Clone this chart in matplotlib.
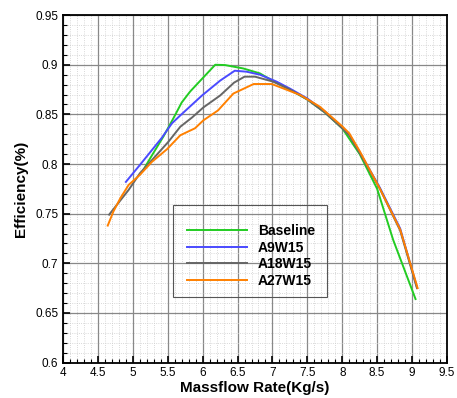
import matplotlib.pyplot as plt
from matplotlib.patches import Rectangle
from matplotlib.ticker import MultipleLocator

plt.rcParams['font.family'] = ['Liberation Sans', 'DejaVu Sans']

# Massflow rate (kg/s) vs efficiency
base_x = [5.15, 5.25, 5.44, 5.58, 5.70, 5.82, 6.18, 6.32, 6.58, 6.82, 7.00, 7.25, 7.50, 7.75,
          8.00, 8.25, 8.50, 8.73, 9.05]
base_y = [0.794, 0.806, 0.828, 0.846, 0.862, 0.873, 0.900, 0.8997, 0.8963, 0.8913, 0.884,
          0.875, 0.865, 0.852, 0.836, 0.810, 0.775, 0.7235, 0.664]

a9_x = [4.90, 5.10, 5.41, 5.56, 5.68, 5.99, 6.25, 6.46, 6.63, 6.82, 7.06, 7.25, 7.50, 7.75,
        8.00, 8.10, 8.25, 8.54, 8.83, 9.07]
a9_y = [0.782, 0.799, 0.826, 0.841, 0.849, 0.869, 0.884, 0.894, 0.893, 0.890, 0.883, 0.876,
        0.866, 0.853, 0.837, 0.830, 0.812, 0.776, 0.735, 0.676]

a18_x = [4.66, 4.94, 5.10, 5.30, 5.51, 5.68, 5.85, 6.01, 6.25, 6.45, 6.60, 6.75, 7.01, 7.25,
         7.50, 7.75, 8.00, 8.10, 8.25, 8.54, 8.83, 9.07]
a18_y = [0.749, 0.774, 0.7906, 0.806, 0.8225, 0.8376, 0.847, 0.857, 0.869, 0.882, 0.888,
         0.888, 0.883, 0.875, 0.865, 0.852, 0.836, 0.829, 0.811, 0.775, 0.733, 0.675]

a27_x = [4.64, 4.72, 4.82, 4.94, 5.10, 5.27, 5.49, 5.68, 5.89, 6.01, 6.22, 6.44, 6.73, 6.99,
         7.40, 7.68, 8.00, 8.10, 8.25, 8.54, 8.83, 9.08]
a27_y = [0.738, 0.752, 0.7655, 0.779, 0.789, 0.802, 0.815, 0.829, 0.836, 0.844, 0.854,
         0.871, 0.8806, 0.8806, 0.8695, 0.8577, 0.838, 0.831, 0.813, 0.775, 0.734, 0.675]

fig = plt.figure(figsize=(4.57, 3.98), dpi=100)
ax = fig.add_axes([0.138, 0.089, 0.840, 0.873])

ax.plot(base_x, base_y, color='#22cc22', lw=1.4, label='Baseline')
ax.plot(a9_x, a9_y, color='#4a4aff', lw=1.4, label='A9W15')
ax.plot(a18_x, a18_y, color='#666666', lw=1.4, label='A18W15')
ax.plot(a27_x, a27_y, color='#ff8000', lw=1.4, label='A27W15')

ax.set_xlim(4, 9.5)
ax.set_ylim(0.6, 0.95)
ax.xaxis.set_major_locator(MultipleLocator(0.5))
ax.xaxis.set_minor_locator(MultipleLocator(0.1))
ax.yaxis.set_major_locator(MultipleLocator(0.05))
ax.yaxis.set_minor_locator(MultipleLocator(0.01))
ax.xaxis.set_major_formatter(plt.FuncFormatter(lambda v, p: f'{v:g}'))
ax.yaxis.set_major_formatter(plt.FuncFormatter(lambda v, p: f'{v:g}'))

ax.grid(which='major', color='#888888', lw=0.9)
ax.grid(which='minor', color='#cccccc', lw=0.6, ls=':')
ax.set_axisbelow(True)
ax.tick_params(which='both', direction='in', labelsize=8.5, width=1.2, top=False, right=False)
ax.tick_params(which='major', length=5)
ax.tick_params(which='minor', length=3, width=0.8)
for s in ax.spines.values():
    s.set_linewidth(1.3)

ax.set_xlabel('Massflow Rate(Kg/s)', fontsize=11, fontweight='bold', labelpad=1)
ax.set_ylabel('Efficiency(%)', fontsize=11, fontweight='bold', labelpad=5)

# legend box drawn separately, entries sit low in it like the original
ax.add_patch(Rectangle((0.2865, 0.189), 0.401, 0.2646, transform=ax.transAxes,
                       fill=False, edgecolor='#555555', lw=0.8, zorder=4))
ax.legend(loc='center left', bbox_to_anchor=(0.323, 0.307), frameon=False,
          prop={'weight': 'bold', 'size': 10}, handlelength=4.3, handletextpad=0.8,
          labelspacing=0.2, borderpad=0, borderaxespad=0)

fig.savefig('out.png', dpi=100)
